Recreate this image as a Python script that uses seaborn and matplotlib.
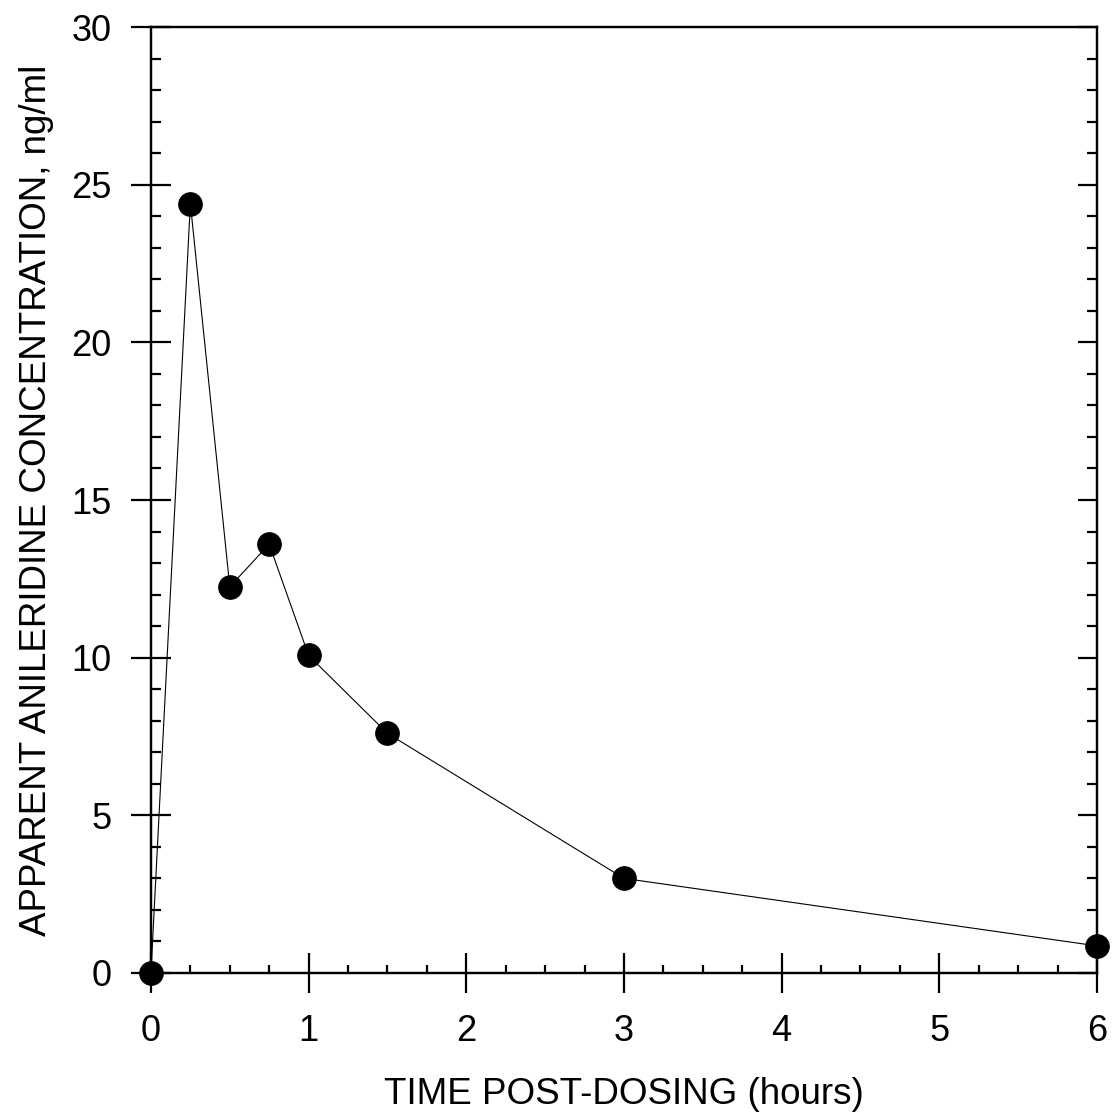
import matplotlib
matplotlib.use("Agg")
import matplotlib.pyplot as plt
import seaborn as sns
import pandas as pd
from matplotlib.ticker import MultipleLocator

sns.set_style("ticks")
plt.rcParams['font.family'] = ['Liberation Sans', 'DejaVu Sans']
plt.rcParams['text.color'] = 'black'
plt.rcParams['axes.labelcolor'] = 'black'
plt.rcParams['xtick.color'] = 'black'
plt.rcParams['ytick.color'] = 'black'
plt.rcParams['axes.edgecolor'] = 'black'

time_hours = [0, 0.25, 0.5, 0.75, 1.0, 1.5, 3.0, 6.0]
concentration = [0.0, 24.4, 12.25, 13.6, 10.07, 7.6, 3.0, 0.86]
x_ticks = [0, 1, 2, 3, 4, 5, 6]
y_ticks = [0, 5, 10, 15, 20, 25, 30]

df = pd.DataFrame({"time": time_hours, "conc": concentration})

fig = plt.figure(figsize=(11.14, 11.18), dpi=100)
ax = fig.add_axes([0.1355, 0.1297, 0.9847 - 0.1355, 0.9758 - 0.1297])

sns.lineplot(data=df, x="time", y="conc", ax=ax, color="black", linewidth=0.8,
             marker="o", markersize=17, markeredgecolor="black",
             markerfacecolor="black", clip_on=False, zorder=5)

ax.set_xlim(0, 6)
ax.set_ylim(0, 30)
ax.set_xticks(x_ticks)
ax.set_yticks(y_ticks)
ax.xaxis.set_minor_locator(MultipleLocator(0.25))
ax.yaxis.set_minor_locator(MultipleLocator(1))

for s in ax.spines.values():
    s.set_linewidth(1.6)
    s.set_color("black")

ax.tick_params(axis='x', which='major', direction='inout', length=29, width=1.6,
               labelsize=26, pad=15, colors='black', top=False)
ax.tick_params(axis='x', which='minor', direction='in', length=6, width=1.6, top=False)
ax.tick_params(axis='y', which='major', direction='inout', length=29, width=1.6,
               labelsize=26, pad=14, colors='black', right=False)
ax.tick_params(axis='y', which='minor', direction='in', length=7, width=1.6, right=False)

ax2 = ax.twinx()
ax2.set_ylim(0, 30)
ax2.set_yticks(y_ticks)
ax2.yaxis.set_minor_locator(MultipleLocator(1))
ax2.tick_params(axis='y', which='major', direction='in', length=14, width=1.6, labelright=False)
ax2.tick_params(axis='y', which='minor', direction='in', length=7, width=1.6)
for s in ax2.spines.values():
    s.set_linewidth(1.6)
    s.set_color("black")

ax.set_xlabel("TIME POST-DOSING (hours)", fontsize=26.5, labelpad=20)
ax.set_ylabel("APPARENT ANILERIDINE CONCENTRATION, ng/ml", fontsize=26.5, labelpad=12)

fig.savefig("out.png", dpi=100, facecolor="white")
